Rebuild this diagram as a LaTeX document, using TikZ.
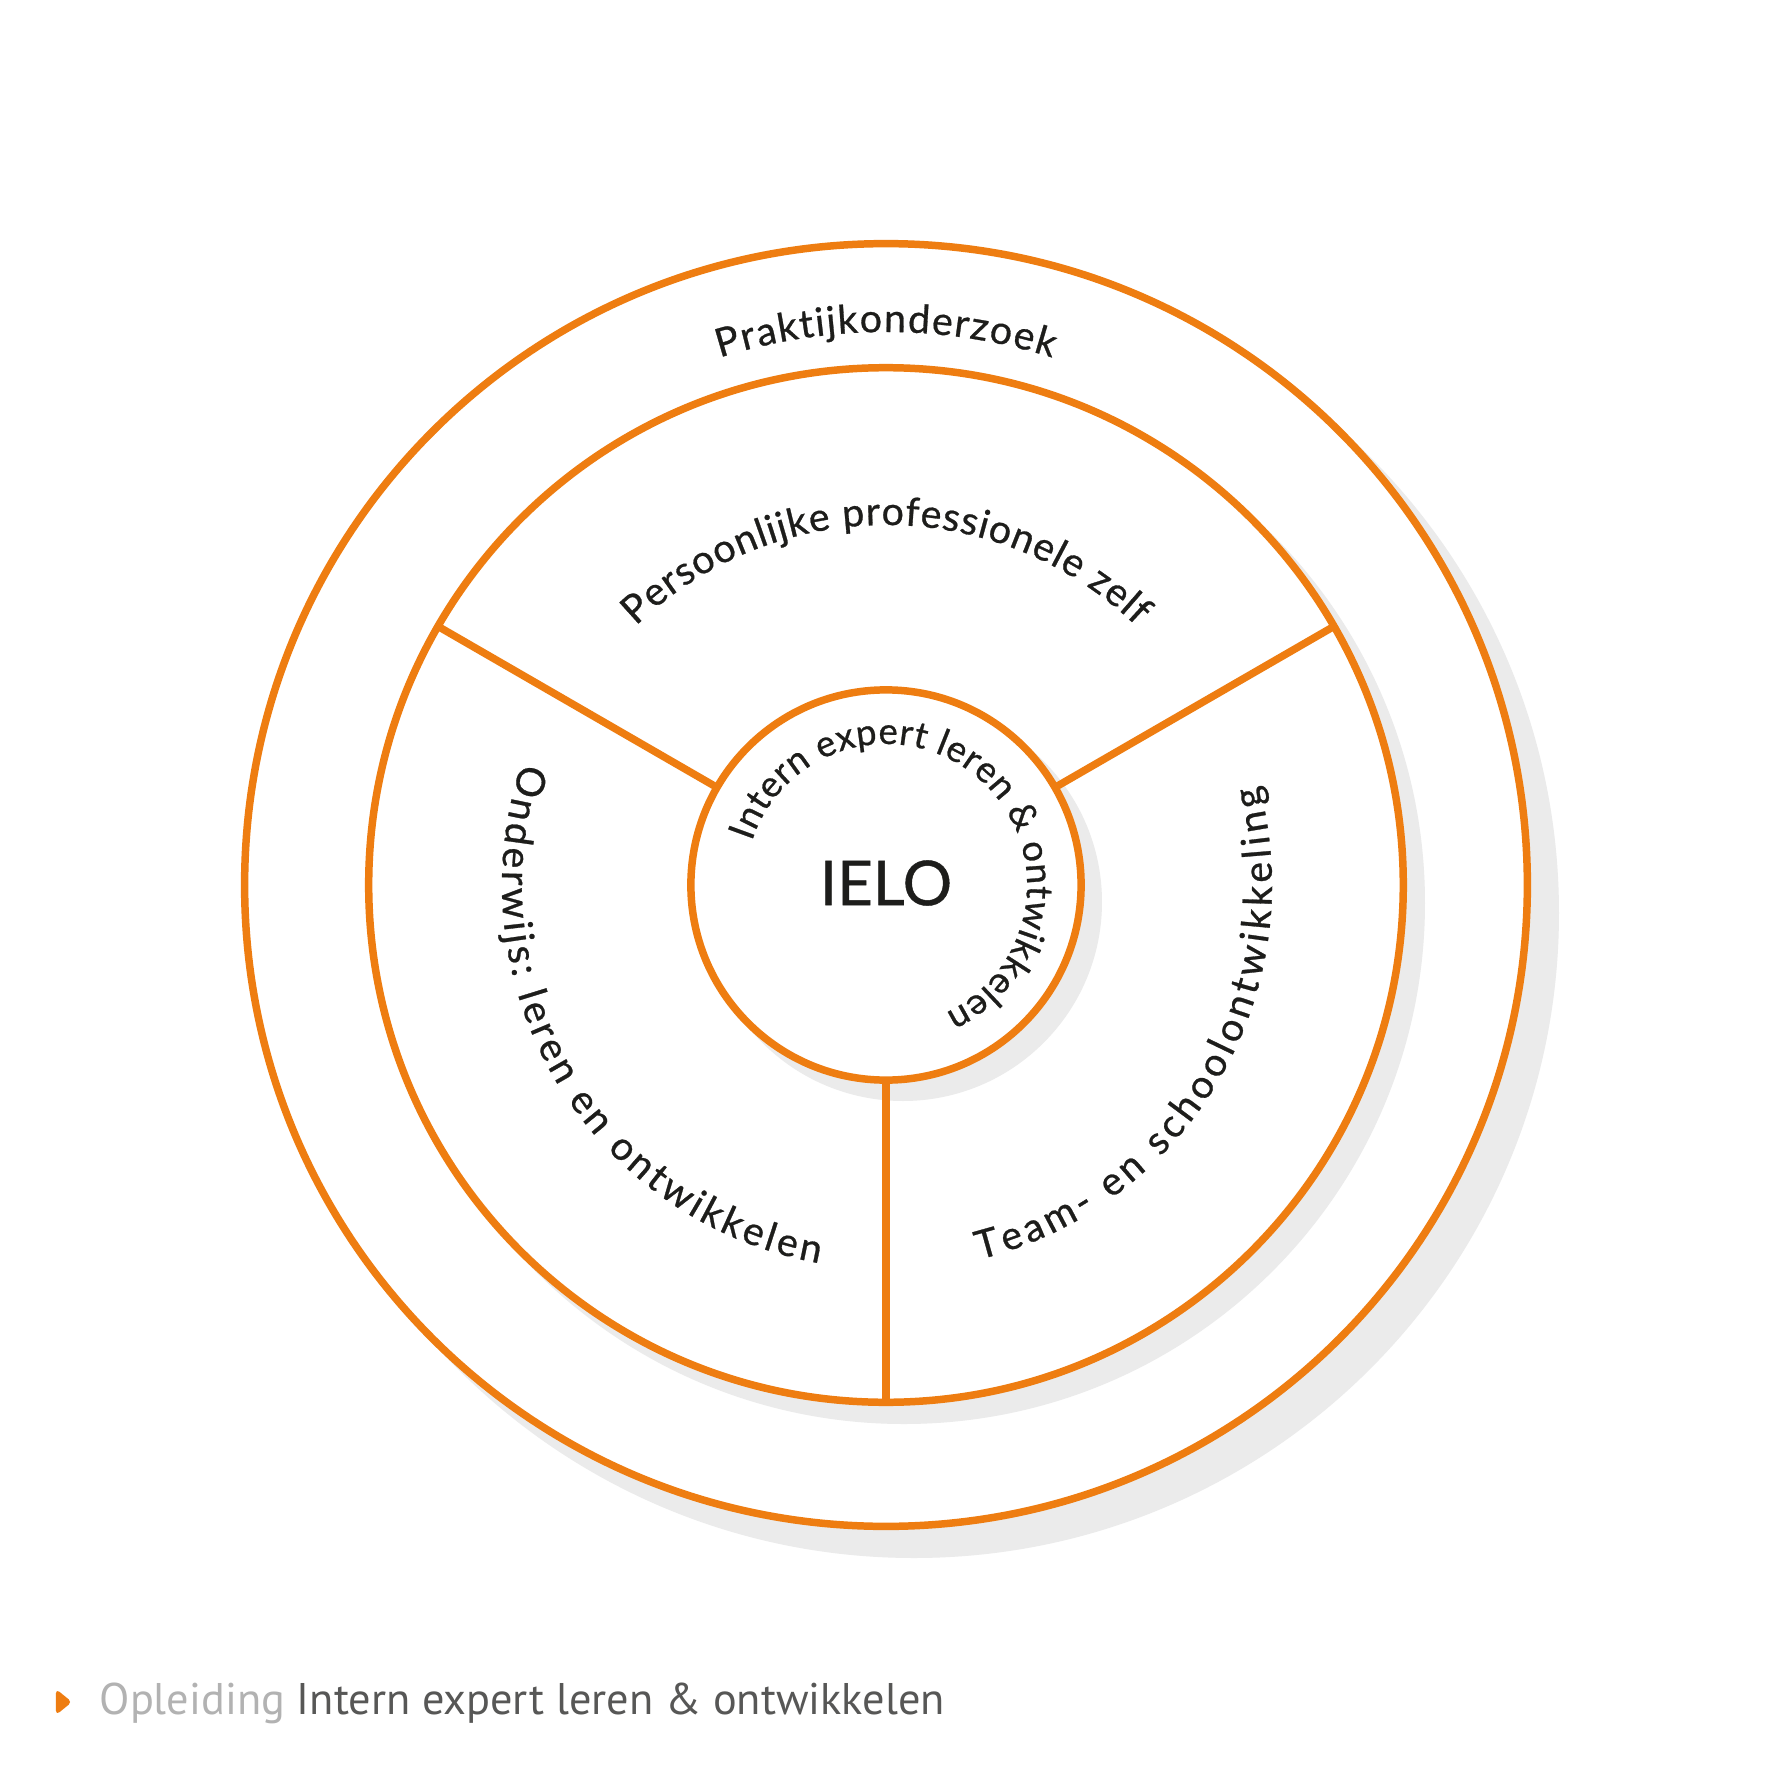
\documentclass[tikz,border=0pt]{standalone}
\usepackage{fontspec}
\setmainfont{Lato}
\newfontfamily\curvefamily{Lato}[FakeBold=0.7]
\newfontfamily\footfont{PT Sans}
\usetikzlibrary{decorations.text}
\definecolor{ringorange}{HTML}{EE7D11}
\definecolor{shadowgrey}{HTML}{EBEBEB}
\definecolor{txt}{HTML}{1D1D1B}
\definecolor{footlight}{HTML}{B2B2B2}
\definecolor{footdark}{HTML}{575756}
\newcommand\curvefont{\curvefamily\fontsize{11.2pt}{13pt}\selectfont}
\newcommand\innerfont{\curvefamily\fontsize{10.4pt}{12pt}\selectfont}
\begin{document}
\begin{tikzpicture}[x=0.01cm,y=0.01cm,
  ring/.style={draw=ringorange, line width=2.13pt, fill=white, circle, inner sep=0pt, outer sep=0pt},
  spoke/.style={draw=ringorange, line width=2.13pt},
  shade/.style={fill=shadowgrey},
  curved/.style={decorate, decoration={text along path, text align={fit to path}, text color=txt}},
]
\useasboundingbox (-886,-887) rectangle (886,885);
\fill[white] (-886,-887) rectangle (886,885);
% outer ring
\fill[shade] (28,-28) circle (645);
\node[ring, minimum size=12.82cm] (outer) at (0,0) {};
% middle ring
\fill[shade] (18,-18) circle (521);
\node[ring, minimum size=10.34cm] (middle) at (0,0) {};
% inner circle
\fill[shade] (17,-17) circle (199);
\node[ring, minimum size=3.90cm] (inner) at (0,0) {};
% spokes
\draw[spoke] (inner.150) -- (middle.150);
\draw[spoke] (inner.30) -- (middle.30);
\draw[spoke] (inner.270) -- (middle.270);
% centre label
\node[font=\curvefamily\fontsize{17.6pt}{20pt}\selectfont, text=txt] (ielo) at (0,2) {IELO};
% curved labels
\path[curved, decoration={text={|\curvefont|Praktijkonderzoek}}]
  (107.5:553) arc[start angle=107.5, end angle=72.5, radius=553];
\path[curved, decoration={text={|\curvefont|Persoonlijke professionele zelf}}]
  (134:360) arc[start angle=134, end angle=46, radius=360];
\path[curved, decoration={text={|\curvefont|Onderwijs: leren en ontwikkelen}}]
  (161.5:384) arc[start angle=161.5, end angle=260, radius=384];
\path[curved, decoration={text={|\curvefont|Team- en schoolontwikkeling}}]
  (284:386) arc[start angle=284, end angle=375, radius=386];
\path[curved, decoration={text={|\innerfont|Intern expert leren {\&} ontwikkelen}}]
  (162:141) arc[start angle=162, end angle=-65, radius=141];
% footer
\fill[ringorange, rounded corners=1.2pt] (-830,-804) -- (-814,-817) -- (-830,-830) -- cycle;
\node[anchor=base west, inner sep=0pt, font=\footfont\fontsize{12.6pt}{14pt}\selectfont, text=footdark] (foot) at (-787,-829) {\textcolor{footlight}{Opleiding} Intern expert leren \& ontwikkelen};
\end{tikzpicture}
\end{document}
